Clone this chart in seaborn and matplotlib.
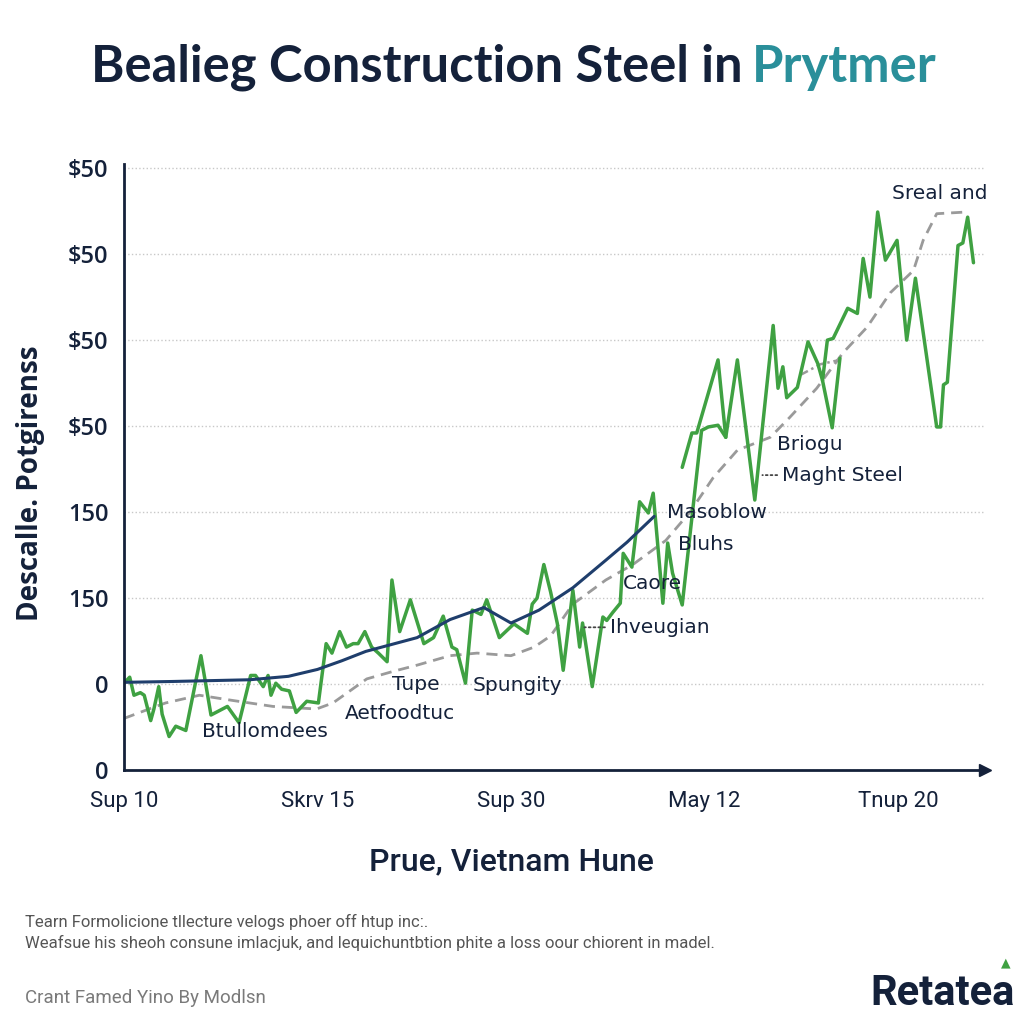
import numpy as np
import pandas as pd
import seaborn as sns
import matplotlib.pyplot as plt

# данные (x - условные дни, y - номер линии сетки)
x_ticks = [0, 20, 40, 60, 80]
x_tick_labels = ["Sup 10", "Skrv 15", "Sup 30", "May 12", "Tnup 20"]
y_ticks = [0, 1, 2, 3, 4, 5, 6, 7]
y_tick_labels = ["0", "0", "150", "150", "$50", "$50", "$50", "$50"]

# зеленая линия - основная
steel_x = [0, 0.6, 1.04, 1.7, 2.1, 2.77, 3.1, 3.6, 3.95, 4.67, 5.36, 6.4, 7.96, 9.0,
           10.7, 11.9, 13.1, 13.6, 14.4, 14.9, 15.2, 15.7, 16.3, 17.1, 17.8, 18.9,
           20.1, 20.9, 21.5, 22.3, 23.0, 23.7, 24.2, 24.9, 25.6, 26.3, 27.2, 27.7,
           28.5, 29.6, 31.0, 32.0, 33.0, 33.9, 34.4, 35.3, 36.0, 36.9, 37.5, 38.8,
           40.3, 41.7, 42.2, 42.7, 43.4, 44.1, 44.8, 45.4, 46.4, 47.1, 47.4, 48.4,
           49.5, 49.9, 50.5, 51.3, 51.6, 52.5, 53.3, 54.2, 54.7, 55.7, 56.2, 56.7,
           57.7, 59.7, 60.4, 61.4, 62.2, 63.4, 65.2, 67.1, 67.6, 68.1, 68.5, 69.6,
           70.7, 71.7, 72.2, 72.7, 73.3, 74.8, 75.8, 76.4, 77.1, 77.9, 78.7, 79.9,
           80.9, 81.8, 84.0, 84.4, 84.7, 85.1, 86.2, 86.7, 87.2, 87.8]
steel_y = [1.01, 1.08, 0.87, 0.90, 0.87, 0.575, 0.71, 0.97, 0.65, 0.39, 0.51, 0.46, 1.33, 0.64,
           0.74, 0.55, 1.10, 1.10, 0.97, 1.10, 0.87, 1.01, 0.94, 0.92, 0.67, 0.80,
           0.78, 1.47, 1.36, 1.61, 1.43, 1.47, 1.47, 1.61, 1.43, 1.36, 1.26, 2.21,
           1.61, 1.98, 1.47, 1.54, 1.79, 1.43, 1.40, 1.01, 1.86, 1.81, 1.98, 1.54,
           1.70, 1.59, 1.93, 2.00, 2.39, 2.07, 1.70, 1.16, 2.09, 1.43, 1.71, 0.97,
           1.78, 1.74, 1.83, 1.94, 2.52, 2.36, 3.12, 2.99, 3.22, 1.94, 2.64, 2.29,
           1.92, 3.95, 3.99, 4.01, 3.87, 4.77, 3.14, 5.17, 4.44, 4.69, 4.33, 4.45,
           4.98, 4.73, 4.53, 5.00, 5.02, 5.37, 5.31, 5.95, 5.50, 6.49, 5.93, 6.16,
           5.00, 5.72, 3.99, 3.99, 4.48, 4.51, 6.10, 6.13, 6.43, 5.90]

# зеленые обрывки
piece_b_x = [57.7, 58.7, 59.2, 61.4, 62.2]
piece_b_y = [3.52, 3.92, 3.92, 4.77, 3.87]
piece_c_x = [72.2, 73.2, 74.0]
piece_c_y = [4.53, 3.98, 4.79]

# синяя сглаженная
trend_x = [0, 5, 13, 17, 20, 22.5, 25, 30.3, 33.7, 37.2, 40, 42.9, 46.4, 49.8, 52, 54.8]
trend_y = [1.02, 1.03, 1.05, 1.09, 1.17, 1.27, 1.38, 1.54, 1.75, 1.89, 1.71, 1.86, 2.12, 2.44, 2.65, 2.95]

# серая пунктирная
avg_x = [0, 2.6, 4.3, 7.8, 11.2, 15.4, 19.9, 21.6, 25.1, 27.9, 30.3, 33.7, 36.5, 40,
         42.4, 44.1, 46.4, 49.8, 52.6, 56, 58.5, 60.9, 63.4, 66.8, 68.8, 71.6,
         74.3, 76.8, 79.2, 81.6, 82.6, 84.0, 87.1]
avg_y = [0.60, 0.71, 0.78, 0.87, 0.81, 0.74, 0.71, 0.78, 1.06, 1.15, 1.22, 1.33, 1.36, 1.33,
         1.43, 1.56, 1.93, 2.21, 2.39, 2.67, 3.00, 3.40, 3.72, 3.87, 4.10, 4.44,
         4.85, 5.15, 5.55, 5.81, 6.16, 6.47, 6.49]
dot_x = [70.0, 72.0, 74.0]
dot_y = [4.60, 4.72, 4.77]

# подписи на графике
labels = ["Sreal and", "Briogu", "Maght Steel", "Masoblow", "Bluhs", "Caore",
          "Ihveugian", "Spungity", "Tupe", "Aetfoodtuc", "Btullomdees"]
label_x = [84.3, 67.5, 68.0, 56.1, 57.3, 51.6, 50.2, 36.0, 27.7, 22.8, 8.1]
label_y = [6.71, 3.79, 3.43, 2.99, 2.62, 2.17, 1.66, 0.98, 0.99, 0.66, 0.45]

navy = "#14213a"
green = "#3fa142"

sns.set_theme(style="white")
plt.rcParams['font.family'] = ['Open Sans', 'DejaVu Sans']

fig = plt.figure(figsize=(10.24, 10.24), dpi=100)
ax = fig.add_axes([0.121, 0.248, 0.841, 0.592])

sns.lineplot(x=avg_x, y=avg_y, ax=ax, color="#9a9a9a", lw=2, estimator=None,
             linestyle=(0, (4, 2.5)))
sns.lineplot(x=dot_x, y=dot_y, ax=ax, color="#9a9a9a", lw=1.8, estimator=None,
             linestyle=(0, (3, 1.5, 1, 1.5)))
sns.lineplot(x=steel_x, y=steel_y, ax=ax, color=green, lw=2.5, estimator=None)
sns.lineplot(x=piece_b_x, y=piece_b_y, ax=ax, color=green, lw=2.5, estimator=None)
sns.lineplot(x=piece_c_x, y=piece_c_y, ax=ax, color=green, lw=2.5, estimator=None)
sns.lineplot(x=trend_x, y=trend_y, ax=ax, color="#1f3e6c", lw=2.2, estimator=None)

ax.set_xlim(0, 89)
ax.set_ylim(0, 7.05)
ax.set_xticks(x_ticks)
ax.set_xticklabels(x_tick_labels, family=['Roboto', 'DejaVu Sans'], fontsize=16, color=navy)
ax.set_yticks(y_ticks)
ax.set_yticklabels(y_tick_labels, fontsize=17, fontweight='semibold', color=navy)
ax.tick_params(axis='both', direction='out', length=7, width=1.8, color=navy)
ax.tick_params(axis='x', pad=8)
ax.tick_params(axis='y', pad=4)
ax.yaxis.grid(True, linestyle=':', color='#c8c8c8', lw=1)
ax.xaxis.grid(False)
sns.despine(ax=ax)
for s in ['left', 'bottom']:
    ax.spines[s].set_color(navy)
    ax.spines[s].set_linewidth(2)
ax.plot([1], [0], marker='>', color=navy, markersize=8, transform=ax.transAxes, clip_on=False)

for t, lx, ly in zip(labels, label_x, label_y):
    ha = 'center' if t == "Sreal and" else 'left'
    ax.text(lx, ly, t, ha=ha, va='center', fontsize=14.5, color=navy,
            family=['DejaVu Sans'])

# пунктирные выноски
ax.annotate("", xy=(47.3, 1.66), xytext=(50.0, 1.66),
            arrowprops=dict(arrowstyle='-', linestyle=':', color='#444444', lw=1.3))
ax.annotate("", xy=(65.7, 3.43), xytext=(67.8, 3.43),
            arrowprops=dict(arrowstyle='-', linestyle=':', color='#444444', lw=1.3))

# заголовок из двух цветов
fig.text(0.725, 0.934, "Bealieg Construction Steel in", ha='right', va='center',
         fontsize=36.5, fontweight='bold', color=navy, family=['Lato', 'DejaVu Sans'])
fig.text(0.734, 0.934, "Prytmer", ha='left', va='center',
         fontsize=36.5, fontweight='bold', color="#2a8f9a", family=['Lato', 'DejaVu Sans'])

fig.text(0.030, 0.528, "Descalle. Potgirenss", rotation=90, ha='center', va='center',
         fontsize=20, fontweight='bold', color=navy)
fig.text(0.499, 0.158, "Prue, Vietnam Hune", ha='center', va='center',
         fontsize=23, fontweight='medium', color=navy, family=['Roboto', 'DejaVu Sans'])

fig.text(0.024, 0.100, "Tearn Formolicione tllecture velogs phoer off htup inc:.",
         ha='left', va='center', fontsize=12, color='#555555', family=['Roboto', 'DejaVu Sans'])
fig.text(0.024, 0.079, "Weafsue his sheoh consune imlacjuk, and lequichuntbtion phite a loss oour chiorent in madel.",
         ha='left', va='center', fontsize=12, color='#555555', family=['Roboto', 'DejaVu Sans'])
fig.text(0.024, 0.025, "Crant Famed Yino By Modlsn", ha='left', va='center',
         fontsize=13.5, color='#7a7a7a', family=['Roboto', 'DejaVu Sans'])
fig.text(0.991, 0.030, "Retatea", ha='right', va='center', fontsize=30,
         fontweight='bold', color=navy, family=['Roboto', 'DejaVu Sans'])
fig.text(0.982, 0.060, "\u25b2", ha='center', va='center', fontsize=9,
         color=green, family=['DejaVu Sans'])

fig.savefig("out.png", dpi=100, facecolor='white')
